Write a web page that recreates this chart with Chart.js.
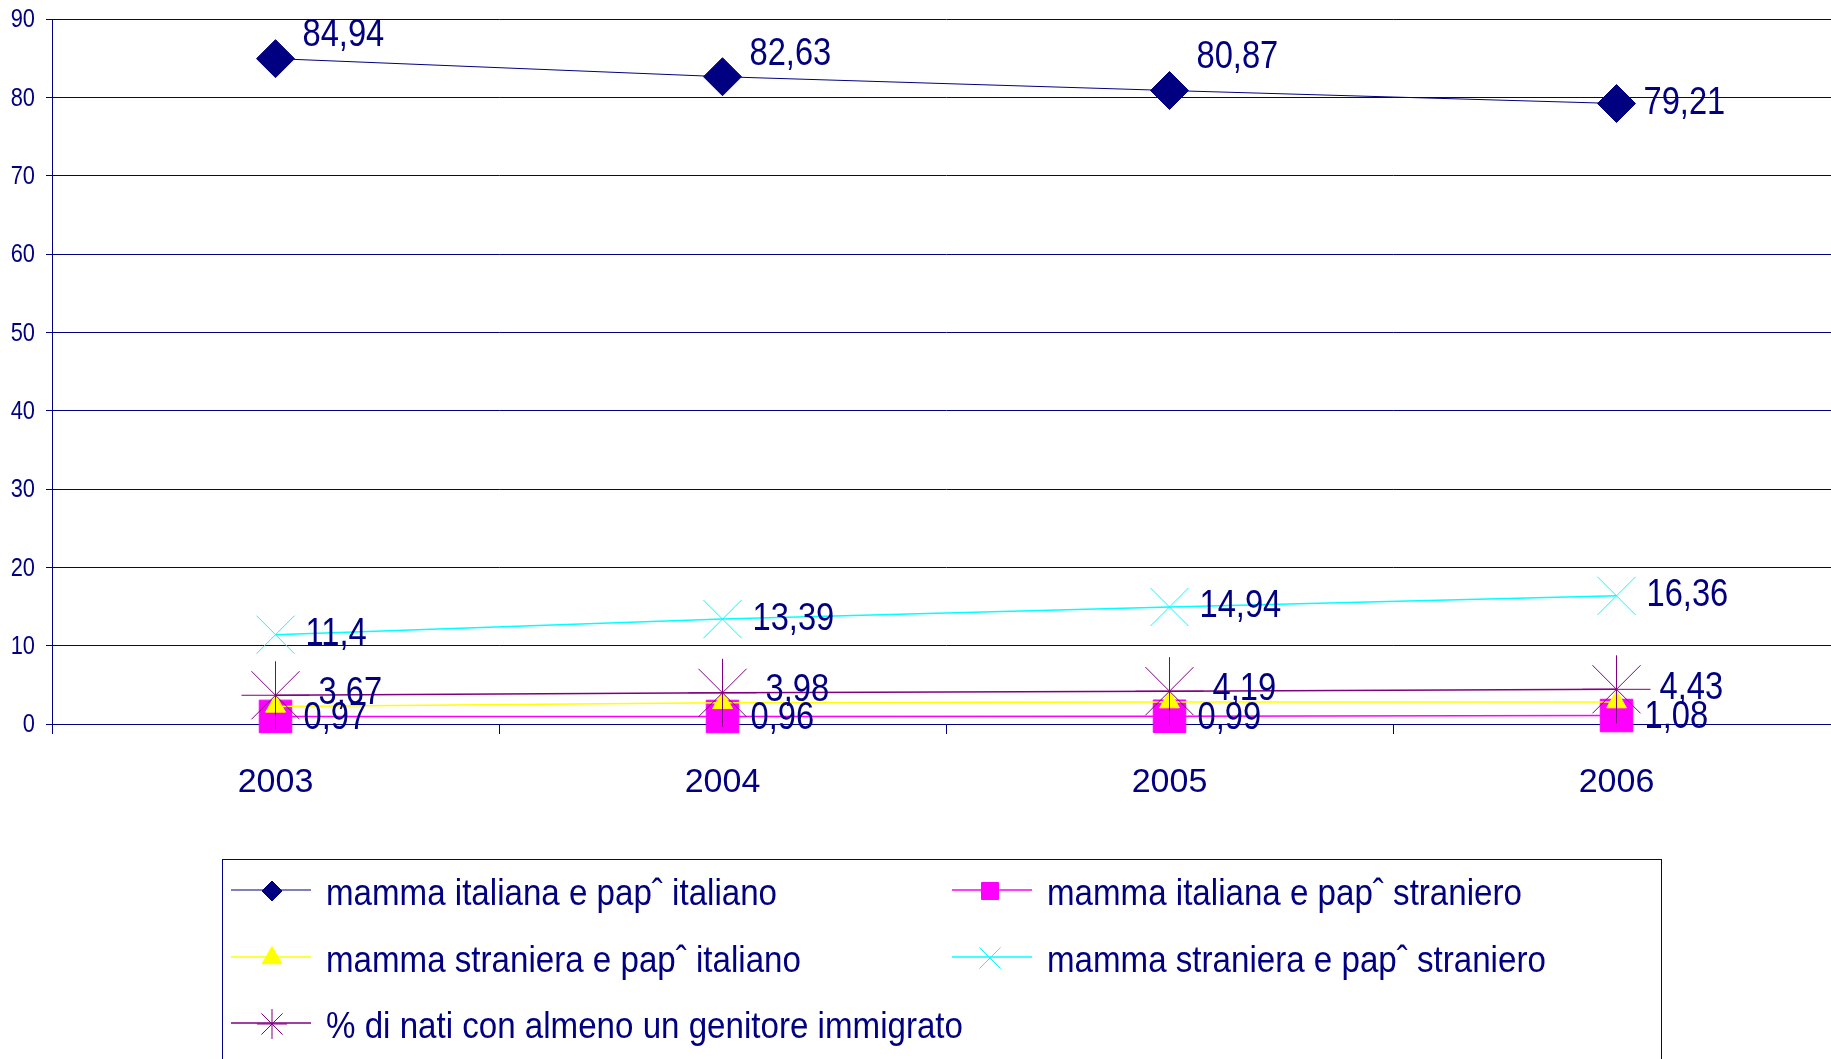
<!DOCTYPE html>
<html>
<head>
<meta charset="utf-8">
<title>Nati per cittadinanza dei genitori 2003-2006</title>
<script src="https://cdn.jsdelivr.net/npm/chart.js@4.4.1/dist/chart.umd.min.js"></script>
<style>
  html, body { margin: 0; padding: 0; overflow: hidden; background: #fff; }
  #wrap { width: 1845px; height: 1059px; }
</style>
</head>
<body>
<div id="wrap"><canvas id="chart" width="1845" height="1059"></canvas></div>
<script>
// Data
const years = ['2003', '2004', '2005', '2006'];
const yTickValues = [0, 10, 20, 30, 40, 50, 60, 70, 80, 90];
const italianaItaliano = [84.94, 82.63, 80.87, 79.21];
const italianaStraniero = [0.97, 0.96, 0.99, 1.08];
const stranieraItaliano = [2.25, 2.7, 2.8, 2.8];
const stranieraStraniero = [11.4, 13.39, 14.94, 16.36];
const almenoUnImmigrato = [3.67, 3.98, 4.19, 4.43];

const NAVY = '#000080';
const SANS = '"Liberation Sans", Arial, sans-serif';

const fmt = v => String(v).replace('.', ',');

// squeezed text, the original uses a condensed face
function narrowText(ctx, text, x, y, squeeze) {
  ctx.save();
  ctx.translate(x, y);
  ctx.scale(squeeze, 1);
  ctx.fillText(text, 0, 0);
  ctx.restore();
}

// y tick labels, drawn narrow at the scale's own positions
const yLabels = {
  id: 'yLabels',
  afterDraw(chart) {
    const ctx = chart.ctx;
    const y = chart.scales.y;
    ctx.save();
    ctx.font = '26px ' + SANS;
    ctx.fillStyle = NAVY;
    ctx.textAlign = 'right';
    ctx.textBaseline = 'middle';
    yTickValues.forEach(v => {
      narrowText(ctx, String(v), y.right - 17, y.getPixelForValue(v) + 1, 0.84);
    });
    ctx.restore();
  }
};

// where each series puts its value labels (dataset index -> offsets)
const labelPlacement = {
  0: { dx: 27, lift: [23, 22, 33, 0] },
  1: { dx: 28, lift: [-2, -2, -2, -2] },
  3: { dx: 30, lift: [0, 0, 0, 0] },
  4: { dx: 43, lift: [2, 2, 2, 1] }
};

const valueLabels = {
  id: 'valueLabels',
  afterDatasetsDraw(chart) {
    const ctx = chart.ctx;
    ctx.save();
    ctx.font = '38px ' + SANS;
    ctx.fillStyle = NAVY;
    ctx.textAlign = 'left';
    ctx.textBaseline = 'middle';
    Object.keys(labelPlacement).forEach(k => {
      const i = Number(k);
      const p = labelPlacement[k];
      const ds = chart.data.datasets[i];
      chart.getDatasetMeta(i).data.forEach((pt, j) => {
        narrowText(ctx, fmt(ds.data[j]), pt.x + p.dx, pt.y - p.lift[j], 0.86);
      });
    });
    ctx.restore();
  }
};

// legend laid out like the original: two columns in a framed box
const legendSlots = [
  { index: 0, x: 231, y: 895, r: 10, mx: 41 },
  { index: 1, x: 952, y: 895, r: 12, mx: 38 },
  { index: 2, x: 231, y: 962, r: 11.5, mx: 41 },
  { index: 3, x: 952, y: 962, r: 15, mx: 38 },
  { index: 4, x: 231, y: 1028, r: 15, mx: 41 }
];

const boxLegend = {
  id: 'boxLegend',
  afterDraw(chart) {
    const ctx = chart.ctx;
    ctx.save();
    ctx.strokeStyle = NAVY;
    ctx.lineWidth = 1;
    ctx.strokeRect(222.5, 859.5, 1439, 260);
    ctx.font = '36px ' + SANS;
    ctx.textAlign = 'left';
    ctx.textBaseline = 'middle';
    legendSlots.forEach(s => {
      const ds = chart.data.datasets[s.index];
      const ly = s.y - 5;
      ctx.strokeStyle = ds.borderColor;
      ctx.lineWidth = ds.borderWidth;
      ctx.beginPath();
      ctx.moveTo(s.x, ly);
      ctx.lineTo(s.x + 80, ly);
      ctx.stroke();
      ctx.fillStyle = ds.pointBackgroundColor;
      ctx.strokeStyle = ds.pointBorderColor;
      ctx.lineWidth = ds.pointBorderWidth;
      Chart.helpers.drawPoint(ctx, {
        pointStyle: ds.pointStyle, radius: s.r, rotation: 0, borderWidth: ds.pointBorderWidth
      }, s.x + s.mx, ly + 1);
      ctx.fillStyle = NAVY;
      narrowText(ctx, ds.label, s.x + 95, s.y, 0.92);
    });
    ctx.restore();
  }
};

function series(label, data, color, style, radius, lineWidth, order) {
  return {
    label: label,
    data: data,
    borderColor: color,
    borderWidth: lineWidth,
    pointStyle: style,
    pointRadius: radius,
    pointBackgroundColor: color,
    pointBorderColor: color,
    pointBorderWidth: 1,
    tension: 0,
    fill: false,
    clip: false,
    order: order
  };
}

new Chart(document.getElementById('chart'), {
  type: 'line',
  data: {
    labels: years,
    datasets: [
      series('mamma italiana e pap\u02C6 italiano', italianaItaliano, NAVY, 'rectRot', 19, 1, 5),
      series('mamma italiana e pap\u02C6 straniero', italianaStraniero, '#FF00FF', 'rect', 23, 1.5, 4),
      series('mamma straniera e pap\u02C6 italiano', stranieraItaliano, '#FFFF00', 'triangle', 11.5, 1.5, 3),
      series('mamma straniera e pap\u02C6 straniero', stranieraStraniero, '#00FFFF', 'crossRot', 27, 1.5, 2),
      series('% di nati con almeno un genitore immigrato', almenoUnImmigrato, '#800080', 'star', 34, 1.5, 1)
    ]
  },
  options: {
    responsive: false,
    devicePixelRatio: 1,
    animation: false,
    events: [],
    layout: { autoPadding: false, padding: { top: 19, right: 5, bottom: 255, left: 0 } },
    plugins: {
      legend: { display: false },
      tooltip: { enabled: false }
    },
    scales: {
      x: {
        type: 'category',
        offset: true,
        grid: { offset: true, drawOnChartArea: false, drawTicks: true, tickLength: 10, color: NAVY, tickColor: NAVY },
        border: { color: NAVY, width: 1 },
        ticks: { color: NAVY, font: { family: SANS, size: 34 }, padding: 28, maxRotation: 0 },
        afterFit: s => {
          s.height = 80;
          s.paddingLeft = 0;
          s.paddingRight = 0;
        }
      },
      y: {
        min: 0,
        max: 90,
        afterBuildTicks: s => { s.ticks = yTickValues.map(v => ({ value: v })); },
        grid: { color: NAVY, lineWidth: 1, tickLength: 6, tickColor: NAVY },
        border: { color: NAVY, width: 1 },
        ticks: { display: false },
        afterFit: s => {
          s.width = 52;
          s.paddingTop = 0;
          s.paddingBottom = 0;
        }
      }
    }
  },
  plugins: [valueLabels, yLabels, boxLegend]
});
</script>
</body>
</html>
